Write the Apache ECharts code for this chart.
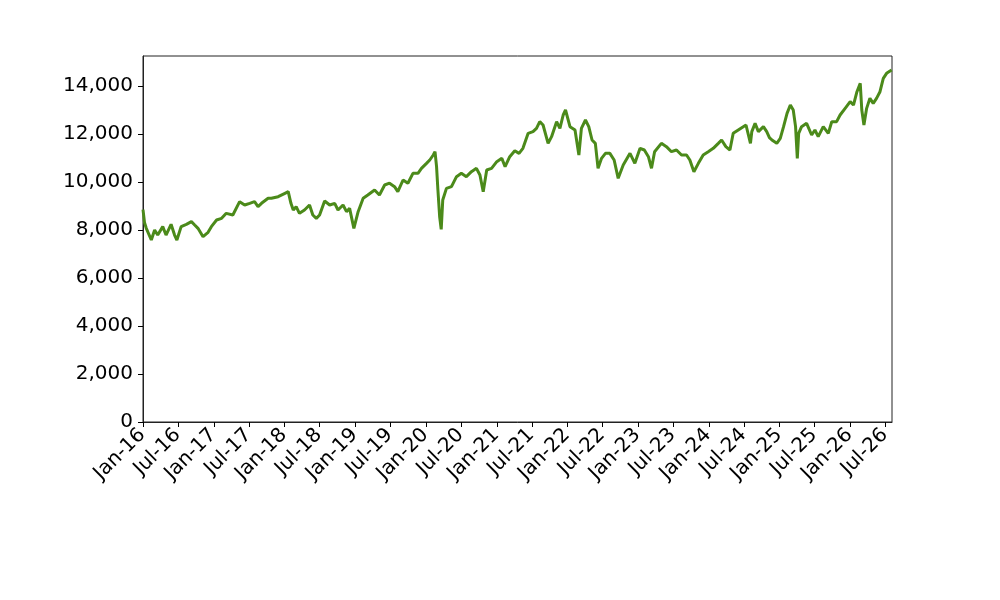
<!DOCTYPE html>
<html><head><meta charset="utf-8">
<script src="https://cdn.jsdelivr.net/npm/echarts@6/dist/echarts.min.js"></script>
<style>html,body{margin:0;padding:0;background:#fff}#c{width:1000px;height:600px}</style>
</head><body><div id="c"></div>
<script>
const dates = [
'2016-01-01','2016-01-09','2016-01-18','2016-02-13','2016-03-01','2016-03-17','2016-04-12','2016-04-29','2016-05-25','2016-06-12',
'2016-06-24','2016-07-16','2016-08-12','2016-09-07','2016-09-24','2016-10-11','2016-11-06','2016-12-02','2016-12-19','2017-01-15',
'2017-02-10','2017-03-06','2017-04-09','2017-05-14','2017-06-09','2017-07-05','2017-07-30','2017-08-17','2017-09-04','2017-10-08',
'2017-10-25','2017-11-29','2018-01-03','2018-01-20','2018-02-03','2018-02-15','2018-03-02','2018-03-19','2018-04-14','2018-05-10',
'2018-05-27','2018-06-14','2018-07-01','2018-07-27','2018-08-22','2018-09-17','2018-10-04','2018-10-30','2018-11-17','2018-12-03',
'2018-12-25','2019-01-16','2019-02-11','2019-03-07','2019-04-11','2019-05-06','2019-06-02','2019-06-27','2019-07-23','2019-08-09',
'2019-09-05','2019-09-30','2019-10-26','2019-11-21','2019-12-09','2020-01-04','2020-01-21','2020-02-08','2020-02-17','2020-02-25',
'2020-03-03','2020-03-12','2020-03-20','2020-03-28','2020-04-03','2020-04-16','2020-05-12','2020-06-07','2020-07-02','2020-07-28',
'2020-08-23','2020-09-18','2020-10-06','2020-10-23','2020-11-10','2020-12-05','2021-01-01','2021-01-27','2021-02-13','2021-03-09',
'2021-04-04','2021-04-26','2021-05-16','2021-06-12','2021-07-07','2021-07-25','2021-08-11','2021-08-28','2021-09-23','2021-10-11',
'2021-11-06','2021-11-23','2021-12-10','2021-12-22','2022-01-14','2022-02-09','2022-03-01','2022-03-14','2022-04-04','2022-04-21',
'2022-05-08','2022-05-25','2022-06-08','2022-06-26','2022-07-16','2022-08-08','2022-08-30','2022-09-20','2022-10-16','2022-11-20',
'2022-12-15','2023-01-11','2023-02-02','2023-02-23','2023-03-11','2023-03-27','2023-05-01','2023-05-27','2023-06-22','2023-07-18',
'2023-08-13','2023-09-08','2023-09-25','2023-10-16','2023-11-08','2023-12-03','2023-12-29','2024-01-24','2024-02-19','2024-03-07',
'2024-03-29','2024-04-19','2024-05-06','2024-06-01','2024-06-27','2024-07-11','2024-08-03','2024-08-10','2024-08-27','2024-09-13',
'2024-10-09','2024-10-26','2024-11-09','2024-11-22','2024-12-17','2025-01-04','2025-01-21','2025-02-08','2025-02-25','2025-03-12',
'2025-03-24','2025-04-02','2025-04-09','2025-04-24','2025-05-20','2025-06-15','2025-07-02','2025-07-19','2025-08-14','2025-09-09',
'2025-09-27','2025-10-22','2025-11-09','2025-12-05','2025-12-31','2026-01-17','2026-02-04','2026-02-21','2026-03-01','2026-03-12',
'2026-03-26','2026-04-12','2026-04-29','2026-05-16','2026-06-03','2026-06-20','2026-07-07','2026-08-02'
];
const values = [
8850,8300,8070,7583,8000,7790,8140,7790,8236,7790,
7583,8140,8236,8347,8208,8070,7722,7903,8140,8417,
8486,8694,8625,9180,9042,9112,9180,8972,9112,9320,
9320,9388,9529,9596,9112,8833,8972,8694,8833,9042,
8625,8486,8625,9208,9042,9112,8833,9042,8764,8903,
8070,8764,9320,9458,9667,9458,9875,9950,9805,9596,
10083,9946,10361,10361,10569,10777,10917,11125,11263,10638,
9667,8554,8028,9250,9320,9736,9805,10222,10361,10222,
10430,10569,10292,9596,10500,10569,10847,10986,10638,11055,
11300,11194,11403,12028,12097,12236,12514,12375,11611,11889,
12514,12236,12792,13000,12306,12167,11125,12236,12583,12306,
11750,11611,10569,10986,11194,11194,10917,10153,10708,11194,
10777,11403,11333,11055,10569,11263,11611,11472,11263,11333,
11125,11125,10917,10430,10777,11125,11263,11403,11611,11750,
11472,11333,12028,12167,12306,12375,11611,12097,12444,12097,
12306,12100,11850,11750,11611,11819,12306,12861,13208,13000,
12306,10986,12028,12306,12444,11958,12167,11889,12306,12028,
12514,12514,12792,13069,13347,13208,13763,14111,13000,12375,
13069,13486,13278,13486,13763,14319,14528,14667
];
const tickLabels = ['Jan-16','Jul-16','Jan-17','Jul-17','Jan-18','Jul-18','Jan-19','Jul-19','Jan-20','Jul-20','Jan-21','Jul-21','Jan-22','Jul-22','Jan-23','Jul-23','Jan-24','Jul-24','Jan-25','Jul-25','Jan-26','Jul-26'];
const tickDates = ['2016-01-01','2016-07-01','2017-01-01','2017-07-01','2018-01-01','2018-07-01','2019-01-01','2019-07-01','2020-01-01','2020-07-01','2021-01-01','2021-07-01','2022-01-01','2022-07-01','2023-01-01','2023-07-01','2024-01-01','2024-07-01','2025-01-01','2025-07-01','2026-01-01','2026-07-01'];
const yTicks = [0,2000,4000,6000,8000,10000,12000,14000];

function ts(s){const p=s.split('-');return Date.UTC(+p[0],+p[1]-1,+p[2]);}
const xTickVals = tickDates.map(ts);
const labelMap = {};
xTickVals.forEach((v,i)=>{labelMap[v]=tickLabels[i];});
const seriesData = dates.map((d,i)=>[ts(d),values[i]]);

const chart = echarts.init(document.getElementById('c'), null, {renderer:'canvas'});
chart.setOption({
  animation:false,
  backgroundColor:'#fff',
  grid:{left:143,right:108,top:56,bottom:178,show:true,borderColor:'#222',borderWidth:1,backgroundColor:'transparent'},
  xAxis:{
    type:'value',
    min:ts('2016-01-01'),max:ts('2026-08-04'),
    splitLine:{show:false},
    axisLine:{lineStyle:{color:'#222',width:1}},
    axisTick:{show:true,length:5,lineStyle:{color:'#000'},customValues:xTickVals},
    axisLabel:{
      customValues:xTickVals,
      rotate:45,margin:9,
      padding:[0,1,0,0],
      fontFamily:'DejaVu Sans',fontSize:20,color:'#000',
      formatter:function(v){return labelMap[v]!==undefined?labelMap[v]:'';}
    }
  },
  yAxis:{
    type:'value',min:0,max:15250,
    splitLine:{show:false},
    axisLine:{show:true,lineStyle:{color:'#222',width:1}},
    axisTick:{show:true,length:5,lineStyle:{color:'#000'},customValues:yTicks},
    axisLabel:{
      customValues:yTicks,
      margin:10,fontFamily:'DejaVu Sans',fontSize:20,color:'#000',
      formatter:function(v){return Number(v).toLocaleString('en-US');}
    }
  },
  series:[{
    type:'line',data:seriesData,showSymbol:false,symbol:'none',
    lineStyle:{color:'#4b8a1a',width:3},
    itemStyle:{color:'#4b8a1a'}
  }]
});
</script>
</body></html>
